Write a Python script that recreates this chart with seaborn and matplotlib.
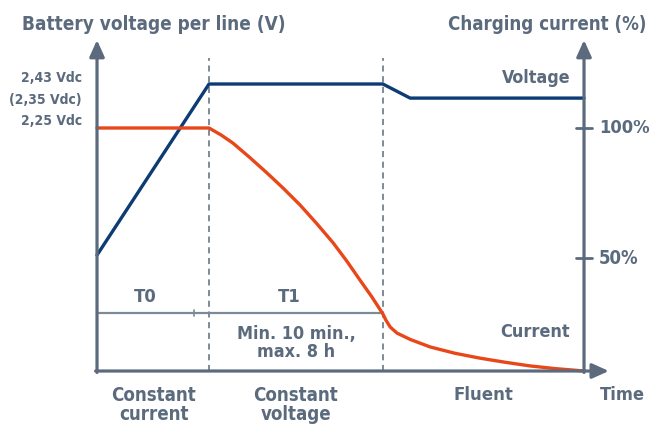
import pandas as pd
import seaborn as sns
import matplotlib.pyplot as plt

# Dados (tempo 0-100, corrente em % )
tempo_tensao = [0, 23.0, 58.7, 64.3, 100]
tensao = [47.7, 118.1, 118.1, 112.3, 112.3]

tempo_corrente = [0, 23.0, 25.5, 27.9, 31.4, 34.9, 38.3, 41.7, 45.1, 48.5, 51.3,
                  54.0, 56.4, 58.7, 59.3, 60.2, 61.6, 64.3, 68.4, 73.5, 78.6,
                  83.8, 88.9, 94.0, 100]
corrente = [100, 100, 97.1, 93.8, 87.8, 81.5, 75.1, 68.3, 60.7, 52.7, 45.2,
            37.4, 30.6, 23.5, 21.0, 18.1, 15.6, 13.0, 9.9, 7.3, 5.3,
            3.6, 2.1, 1.0, 0]

fases = [0, 23.0, 58.7]          # inicio, fim T0, fim T1
nivel_t = 23.9
marca_t0 = 19.9
ticks_corrente = [100, 46.5]
rotulos_corrente = ['100%', '50%']

cinza = '#5b6b7d'
azul = '#0d3b73'
vermelho = '#e8471a'

sns.set_style('white')
plt.rcParams['font.family'] = ['DejaVu Sans']
plt.rcParams['font.weight'] = 'bold'
plt.rcParams['font.stretch'] = 'condensed'

fig = plt.figure(figsize=(6.52, 4.26), dpi=100)
ax = fig.add_axes([0, 0, 1, 1])
ax.set_xlim(-19.92, 113.96)
ax.set_ylim(-22.63, 152.67)
ax.axis('off')

df_v = pd.DataFrame({'t': tempo_tensao, 'v': tensao})
df_c = pd.DataFrame({'t': tempo_corrente, 'c': corrente})

# linhas de fase
for xf in fases[1:]:
    ax.plot([xf, xf], [0, 128.8], color=cinza, lw=1.1, ls=(0, (4, 3)), zorder=1)
ax.plot([0, fases[2]], [nivel_t, nivel_t], color='#7b8a98', lw=1.6, zorder=1)
ax.plot([marca_t0, marca_t0], [nivel_t - 1.3, nivel_t + 1.3], color='#7b8a98', lw=1.2)

sns.lineplot(data=df_v, x='t', y='v', sort=False, color=azul, lw=2.4, ax=ax, zorder=3)
sns.lineplot(data=df_c, x='t', y='c', sort=False, color=vermelho, lw=2.4, ax=ax, zorder=3)

# eixos com setas
seta = dict(arrowstyle='-|>,head_width=0.45,head_length=1.0', color=cinza, lw=2.3,
            shrinkA=0, shrinkB=0)
ax.annotate('', xy=(0, 136.2), xytext=(0, -0.6), arrowprops=seta)
ax.annotate('', xy=(100, 136.2), xytext=(100, -0.6), arrowprops=seta)
ax.annotate('', xy=(105.1, 0), xytext=(-0.3, 0), arrowprops=seta)
for yt in ticks_corrente:
    ax.plot([98.4, 101.6], [yt, yt], color=cinza, lw=2.0)

renderer = fig.canvas.get_renderer()


def txt(x, y, s, size, ha='center', width=None, **kw):
    t = fig.text(x / 652, 1 - y / 426, s, fontsize=size, ha=ha, va='center',
                 color=cinza, fontweight='bold', **kw)
    # ajusta o tamanho para a largura medida na figura original
    if width is not None:
        w = t.get_window_extent(renderer).width
        t.set_fontsize(min(size * width / w, size * 1.1))
    return t


txt(22, 25, 'Battery voltage per line (V)', 14.8, ha='left', width=262)
txt(647, 25, 'Charging current (%)', 14.8, ha='right', width=199)
txt(570, 78, 'Voltage', 13.8, ha='right', width=69)
txt(570, 332, 'Current', 13.8, ha='right', width=70)
for yt, lab in zip([128, 258], rotulos_corrente):
    txt(599, yt, lab, 13.8, ha='left', width=51 if lab == '100%' else 40)
txt(82, 78, '2,43 Vdc', 10.2, ha='right', width=61)
txt(82, 100, '(2,35 Vdc)', 10.2, ha='right', width=73)
txt(82, 121, '2,25 Vdc', 10.2, ha='right', width=61)
txt(145, 297, 'T0', 13.2)
txt(289, 297, 'T1', 13.2)
txt(296, 343, 'Min. 10 min.,\nmax. 8 h', 12.5, linespacing=1.05, width=119)
txt(154, 405, 'Constant\ncurrent', 13.5, linespacing=1.0, width=85)
txt(296, 405, 'Constant\nvoltage', 13.5, linespacing=1.0, width=85)
txt(483, 395, 'Fluent', 13.5, width=60)
txt(622, 395, 'Time', 13.5, width=45)

plt.savefig('out.png', dpi=100)
